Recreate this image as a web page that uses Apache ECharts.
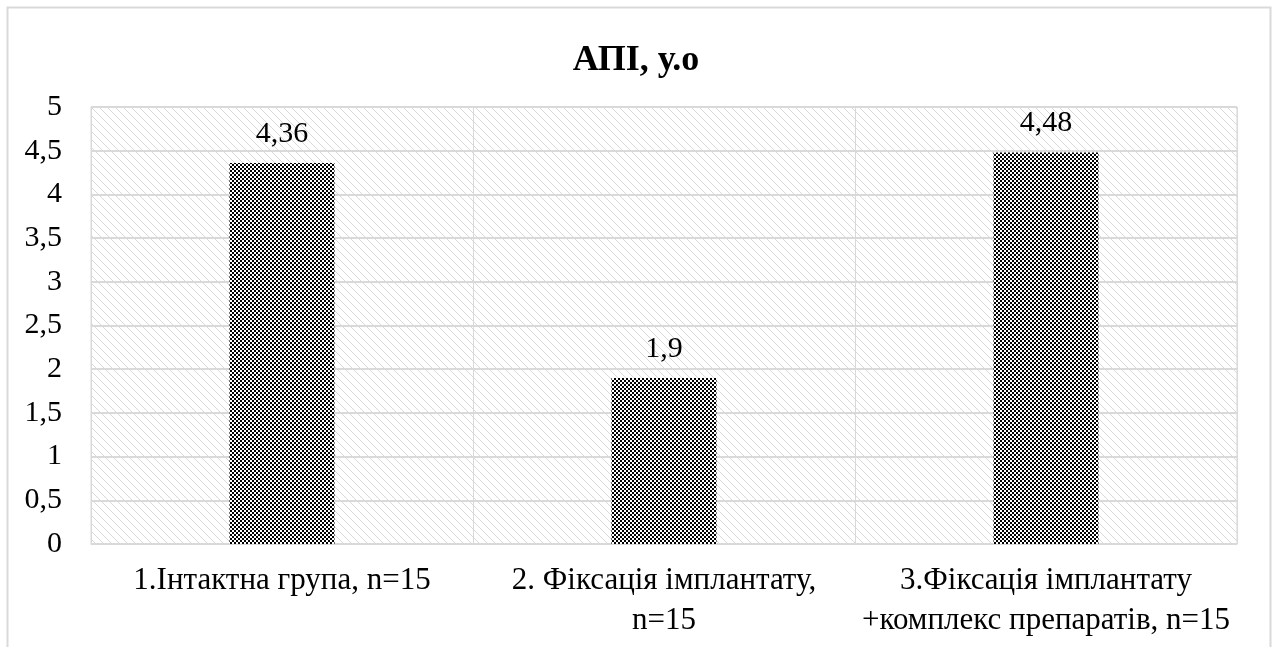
<!DOCTYPE html>
<html><head><meta charset="utf-8">
<script src="https://cdn.jsdelivr.net/npm/echarts@6/dist/echarts.min.js"></script>
<style>html,body{margin:0;padding:0;background:#fff}#c{width:1272px;height:647px}</style>
</head><body><div id="c"></div>
<script>
const title = 'АПІ, у.о';
const categories = ['1.Інтактна група, n=15', '2. Фіксація імплантату,\nn=15', '3.Фіксація імплантату\n+комплекс препаратів, n=15'];
const values = [4.36, 1.9, 4.48];
const yMin = 0, yMax = 5, yStep = 0.5;
const FONT = 'Liberation Serif';

function hatch() {
  const c = document.createElement('canvas'); c.width = 8; c.height = 8;
  const g = c.getContext('2d');
  g.fillStyle = '#ffffff'; g.fillRect(0,0,8,8);
  g.fillStyle = '#d9d9d9';
  for (let i = 0; i < 8; i++) { g.fillRect(i, i, 1, 1); }
  return c;
}
function checker() {
  const c = document.createElement('canvas'); c.width = 4; c.height = 4;
  const g = c.getContext('2d');
  g.fillStyle = '#ffffff'; g.fillRect(0,0,4,4);
  g.fillStyle = '#000000'; g.fillRect(0,0,2,2); g.fillRect(2,2,2,2);
  return c;
}
const fmt = v => String(v).replace('.', ',');
const chart = echarts.init(document.getElementById('c'), null, {renderer: 'canvas'});
chart.setOption({
  animation: false,
  backgroundColor: '#fff',
  title: { text: title, left: 'center', top: 38, textStyle: { fontFamily: FONT, fontWeight: 'bold', fontSize: 36, color: '#000' } },
  graphic: [{ type: 'rect', shape: { x: 7.5, y: 7.5, width: 1263, height: 700 }, style: { fill: 'none', stroke: '#d9d9d9', lineWidth: 2 }, silent: true }],
  grid: { left: 91, right: 35, top: 107, bottom: 103, show: true, backgroundColor: { image: hatch(), repeat: 'repeat' }, borderColor: '#d9d9d9', borderWidth: 1 },
  xAxis: {
    type: 'category', data: categories,
    axisLine: { lineStyle: { color: '#d9d9d9', width: 1 } }, axisTick: { show: false },
    splitLine: { show: true, lineStyle: { color: '#d9d9d9', width: 1 } },
    axisLabel: { interval: 0, margin: 17, fontFamily: FONT, fontSize: 31, lineHeight: 40, color: '#000' }
  },
  yAxis: {
    type: 'value', min: yMin, max: yMax, interval: yStep,
    axisLine: { show: false }, axisTick: { show: false },
    splitLine: { lineStyle: { color: '#d9d9d9', width: 2 } },
    axisLabel: { margin: 29, fontFamily: FONT, fontSize: 30, color: '#000', formatter: fmt }
  },
  series: [{
    type: 'bar', data: values, barWidth: '27.5%',
    itemStyle: { color: { image: checker(), repeat: 'repeat' } },
    label: { show: true, position: 'top', distance: 14, fontFamily: FONT, fontSize: 30, color: '#000', formatter: p => fmt(p.value) }
  }]
});
</script></body></html>
